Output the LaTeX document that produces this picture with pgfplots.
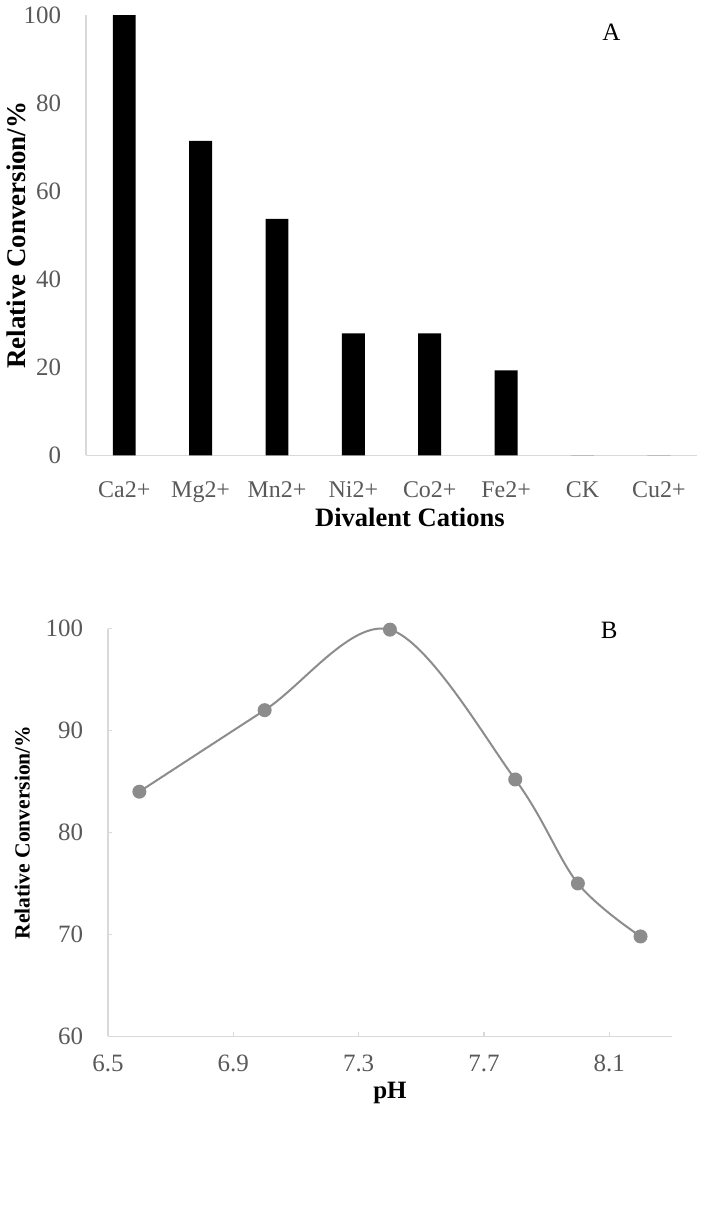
\documentclass[border=0pt]{standalone}
\usepackage{pgfplots}
\pgfplotsset{compat=1.18}
\usepackage{fontspec}
\setmainfont{Liberation Serif}
\definecolor{axisgray}{HTML}{D9D9D9}
\definecolor{ticktext}{HTML}{595959}
\definecolor{linegray}{HTML}{8C8C8C}
\begin{document}
\begin{tikzpicture}[x=1pt,y=1pt]
\path (0,0) rectangle (350,-613.5);
% Panel A
\begin{axis}[
  at={(42.5pt,-6.5pt)}, anchor=north west,
  scale only axis, width=306pt, height=220.5pt,
  xmin=-0.5, xmax=7.5, ymin=0, ymax=100,
  ytick={0,20,40,60,80,100},
  xtick={0,1,2,3,4,5,6,7},
  xticklabels={Ca2+,Mg2+,Mn2+,Ni2+,Co2+,Fe2+,CK,Cu2+},
  axis x line=bottom, axis y line=left,
  axis line style={-, draw=axisgray, line width=0.8pt},
  major tick length=0pt,
  /pgf/number format/assume math mode=true,
  yticklabel style={font=\fontsize{12.5}{14}\selectfont, text=ticktext, xshift=-9pt},
  xticklabel style={font=\fontsize{12}{14}\selectfont, text=ticktext, yshift=-9.5pt},
  xlabel={\textbf{Divalent Cations}},
  xlabel style={font=\fontsize{13.3}{15}\selectfont, at={(axis description cs:0.53,0)}, anchor=center, yshift=-31pt},
  ylabel={\textbf{Relative Conversion/\%}},
  ylabel style={font=\fontsize{13.5}{15}\selectfont, at={(axis description cs:0,0.5)}, anchor=center, rotate=0, yshift=35pt},
  clip=false,
]
\addplot[ybar, bar width=11.5pt, fill=black, draw=none] coordinates {
(0,100) (1,71.4) (2,53.7) (3,27.7) (4,27.7) (5,19.3) (6,0) (7,0)
};
\node[font=\fontsize{12.5}{14}\selectfont] at (axis cs:6.38,96.1) {A};
\end{axis}
% Panel B
\begin{axis}[
  at={(53.5pt,-313.8pt)}, anchor=north west,
  scale only axis, width=282.4pt, height=204.2pt,
  xmin=6.5, xmax=8.3, ymin=60, ymax=100,
  ytick={60,70,80,90,100},
  xtick={6.5,6.9,7.3,7.7,8.1},
  axis x line=bottom, axis y line=left,
  axis line style={-, draw=axisgray, line width=0.8pt},
  tick style={draw=axisgray, line width=0.6pt},
  tick align=inside, major tick length=2pt,
  /pgf/number format/assume math mode=true,
  yticklabel style={font=\fontsize{12.5}{14}\selectfont, text=ticktext, xshift=-9pt},
  xticklabel style={font=\fontsize{12.5}{14}\selectfont, text=ticktext, yshift=-6pt, /pgf/number format/fixed, /pgf/number format/fixed zerofill, /pgf/number format/precision=1},
  xlabel={\textbf{pH}},
  xlabel style={font=\fontsize{12.5}{14}\selectfont, yshift=2pt},
  ylabel={\textbf{Relative Conversion/\%}},
  ylabel style={font=\fontsize{10.8}{13}\selectfont, at={(axis description cs:0,0.5)}, anchor=center, yshift=43pt},
  clip=false,
]
\addplot[color=linegray, line width=1pt, smooth, tension=0.55, mark=*, mark size=3pt, mark options={fill=linegray, draw=linegray}] coordinates {
(6.6,84.0) (7.0,92.0) (7.4,99.9) (7.8,85.2) (8.0,75.0) (8.2,69.8)
};
\node[font=\fontsize{12.5}{14}\selectfont] at (axis cs:8.1,99.8) {B};
\end{axis}
\end{tikzpicture}
\end{document}
